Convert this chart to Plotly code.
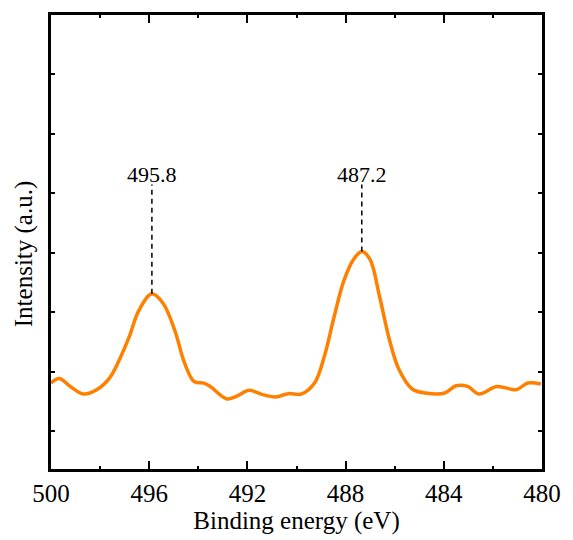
import plotly.graph_objects as go

energy = [500.00, 499.67, 499.20, 498.68, 498.14, 497.61, 497.22, 496.82, 496.42, 495.89,
          495.43, 494.96, 494.56, 494.17, 493.77, 493.51, 492.84, 492.45, 491.92, 491.38,
          490.85, 490.33, 489.79, 489.26, 488.87, 488.47, 488.07, 487.67, 487.34, 487.01,
          486.61, 486.21, 485.82, 485.29, 484.76, 483.96, 483.50, 483.03, 482.57, 481.84,
          481.05, 480.58, 480.05]
intensity = [0.812, 0.889, 0.750, 0.629, 0.700, 0.900, 1.200, 1.583, 2.033, 2.312,
             2.150, 1.700, 1.150, 0.838, 0.812, 0.755, 0.545, 0.589, 0.689, 0.617,
             0.579, 0.634, 0.629, 0.817, 1.255, 1.922, 2.534, 2.895, 3.022, 2.895,
             2.255, 1.534, 1.034, 0.712, 0.645, 0.645, 0.767, 0.755, 0.629, 0.755,
             0.700, 0.812, 0.795]
peak_energy = [495.89, 487.34]
peak_intensity = [2.312, 3.022]
peak_labels = ["495.8", "487.2"]
label_level = 4.15
x_ticks = [500, 496, 492, 488, 484, 480]

font = "Liberation Serif, Times New Roman, serif"

fig = go.Figure()
fig.add_trace(go.Scatter(x=energy, y=intensity, mode="lines",
                         line=dict(color="#FF8000", width=3.5, shape="spline", smoothing=1.0),
                         showlegend=False, hoverinfo="skip"))

for pe, pi, lab in zip(peak_energy, peak_intensity, peak_labels):
    fig.add_shape(type="line", x0=pe, x1=pe, y0=pi, y1=label_level, xref="x", yref="y",
                  line=dict(color="black", width=1.5, dash="5px,4px"))
    fig.add_annotation(x=pe, y=label_level, text=lab, showarrow=False, xref="x", yref="y",
                       yanchor="bottom", yshift=-4, font=dict(family=font, size=22, color="black"))

fig.add_annotation(x=-0.056, y=0.472, xref="paper", yref="paper", text="Intensity (a.u.)",
                   textangle=-90, showarrow=False, xanchor="center", yanchor="middle",
                   font=dict(family=font, size=25, color="black"))

fig.update_xaxes(range=[500, 480], tickvals=x_ticks, ticktext=[str(v) for v in x_ticks],
                 ticks="inside", ticklen=8, tickwidth=2, tickcolor="black",
                 minor=dict(dtick=2, ticks="inside", ticklen=3, tickwidth=1.5, tickcolor="black"),
                 showline=True, linecolor="black", linewidth=2.5, mirror="ticks",
                 showgrid=False, zeroline=False,
                 tickfont=dict(family=font, size=25, color="black"),
                 title=dict(text="Binding energy (eV)", font=dict(family=font, size=25, color="black"), standoff=4))
fig.update_yaxes(range=[-0.633, 7.0], tickvals=[0, 1, 2, 3, 4, 5, 6], showticklabels=False,
                 ticks="inside", ticklen=4, tickwidth=1.5, tickcolor="black",
                 showline=True, linecolor="black", linewidth=2.5, mirror="ticks",
                 showgrid=False, zeroline=False)
fig.update_layout(width=573, height=540, margin=dict(l=51, r=21, t=12, b=69),
                  plot_bgcolor="white", paper_bgcolor="white")
fig.write_html("out.html")
